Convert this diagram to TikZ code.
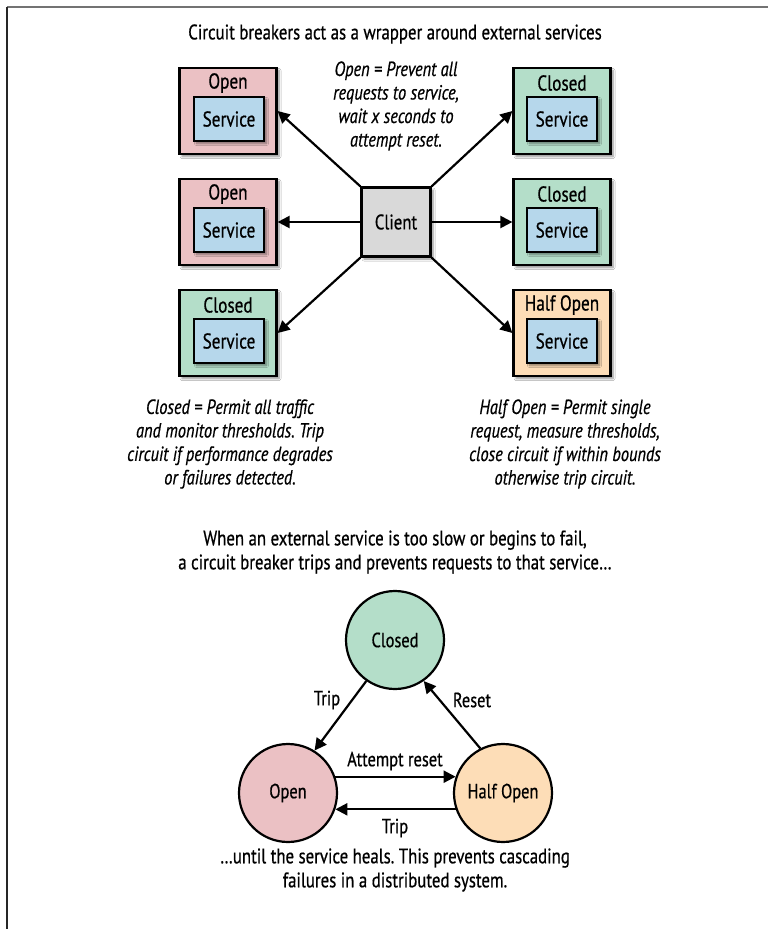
\documentclass[tikz,border=0pt]{standalone}
\usepackage{fontspec}
\setmainfont{PT Sans}[FakeStretch=0.8, FakeBold=0.6]
\usetikzlibrary{arrows.meta,shadows.blur}
\frenchspacing

\definecolor{openfill}{HTML}{EBC1C4}
\definecolor{closedfill}{HTML}{B4DEC9}
\definecolor{halffill}{HTML}{FDDDB7}
\definecolor{svcfill}{HTML}{B6D7EB}
\definecolor{clientfill}{HTML}{D9D9D9}

\tikzset{
  softshadow/.style={blur shadow={shadow xshift=2.5pt, shadow yshift=-2.5pt,
      shadow blur steps=6, shadow opacity=45}},
  statebox/.style={draw=black, line width=2.2pt, minimum width=97pt,
      minimum height=86pt, inner sep=0pt, softshadow},
  svcbox/.style={draw=black, line width=2.2pt, fill=svcfill, minimum width=70pt,
      minimum height=44pt, inner sep=0pt, font=\fontsize{21.5}{24}\selectfont, softshadow},
  boxlabel/.style={font=\fontsize{21.5}{24}\selectfont, inner sep=0pt},
  clientbox/.style={draw=black, line width=2.2pt, fill=clientfill, minimum width=69pt,
      minimum height=69pt, inner sep=0pt, font=\fontsize{21}{24}\selectfont, softshadow},
  statecircle/.style={circle, draw=black, line width=2.2pt, minimum size=98pt,
      inner sep=0pt, font=\fontsize{20.5}{24}\selectfont},
  note/.style={align=center, font=\fontsize{20.5}{23.5}\selectfont\itshape, inner sep=0pt},
  caption/.style={align=center, font=\fontsize{21}{24}\selectfont, inner sep=0pt},
  edgelabel/.style={font=\fontsize{20.5}{23}\selectfont, inner sep=0pt},
  link/.style={line width=2.2pt, -{Triangle[length=12pt,width=12pt]}},
}

\begin{document}
\begin{tikzpicture}[x=1pt, y=-1pt]
  \useasboundingbox (0,0) rectangle (768,929);
  \fill[white] (0,0) rectangle (768,929);

  % page frame: top and left rules
  \draw[line width=2pt, black!55] (7,7) -- (768,7);
  \draw[line width=2pt, black!85] (7,7) -- (7,929);

  \node[caption] (title) at (395,34) {Circuit breakers act as a wrapper around external services};

  % left column of services
  \node[statebox, fill=openfill] (boxA) at (228,111) {};
  \node[boxlabel] (labA) at (228,83) {Open};
  \node[svcbox] (svcA) at (229,119) {Service};

  \node[statebox, fill=openfill] (boxB) at (228,222) {};
  \node[boxlabel] (labB) at (228,194) {Open};
  \node[svcbox] (svcB) at (229,230) {Service};

  \node[statebox, fill=closedfill] (boxC) at (228,333) {};
  \node[boxlabel] (labC) at (228,305) {Closed};
  \node[svcbox] (svcC) at (229,341) {Service};

  % right column of services
  \node[statebox, fill=closedfill] (boxD) at (562,111) {};
  \node[boxlabel] (labD) at (562,83) {Closed};
  \node[svcbox] (svcD) at (562,119) {Service};

  \node[statebox, fill=closedfill] (boxE) at (562,222) {};
  \node[boxlabel] (labE) at (562,194) {Closed};
  \node[svcbox] (svcE) at (562,230) {Service};

  \node[statebox, fill=halffill] (boxF) at (562,333) {};
  \node[boxlabel] (labF) at (562,305) {Half Open};
  \node[svcbox] (svcF) at (562,341) {Service};

  % client
  \node[clientbox] (client) at (396,222) {Client};

  \draw[link] (client.north west) -- (boxA.east);
  \draw[link] (client.west) -- (boxB.east);
  \draw[link] (client.south west) -- (boxC.east);
  \draw[link] (client.north east) -- (boxD.west);
  \draw[link] (client.east) -- (boxE.west);
  \draw[link] (client.south east) -- (boxF.west);

  % state notes
  \node[note] (noteOpen) at (396,106) {Open = Prevent all\\requests to service,\\wait x seconds to\\attempt reset.};
  \node[note] (noteClosed) at (230,444) {Closed = Permit all traffic\\and monitor thresholds. Trip\\circuit if performance degrades\\or failures detected.};
  \node[note] (noteHalf) at (565,444) {Half Open = Permit single\\request, measure thresholds,\\close circuit if within bounds\\otherwise trip circuit.};

  \node[caption] (intro) at (395,552) {When an external service is too slow or begins to fail,\\a circuit breaker trips and prevents requests to that service…};

  % state machine
  \node[statecircle, fill=closedfill] (closed) at (395,640) {Closed};
  \node[statecircle, fill=openfill] (open) at (288,793) {Open};
  \node[statecircle, fill=halffill] (half) at (503,793) {Half Open};

  \draw[link] (closed.235) -- (open.58);
  \draw[link] (half.117) -- (closed.305);
  \draw[link] (open.19) -- (half.161);
  \draw[link] (half.199) -- (open.341);

  \node[edgelabel] (tripA) at (327,700) {Trip};
  \node[edgelabel] (resetL) at (472,700) {Reset};
  \node[edgelabel] (attemptL) at (395,761) {Attempt reset};
  \node[edgelabel] (tripB) at (395,828) {Trip};

  \node[caption] (outro) at (395,870) {…until the service heals. This prevents cascading\\failures in a distributed system.};
\end{tikzpicture}
\end{document}
